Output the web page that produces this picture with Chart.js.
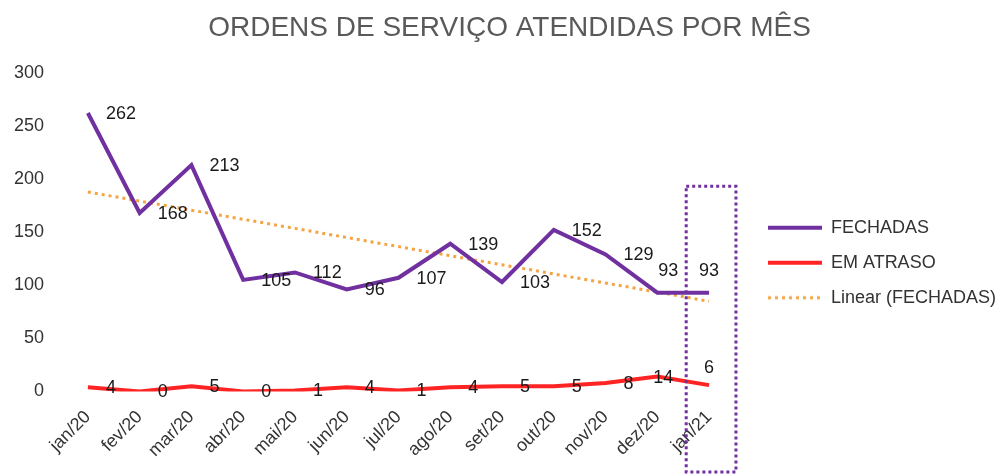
<!DOCTYPE html>
<html>
<head>
<meta charset="utf-8">
<script src="https://cdn.jsdelivr.net/npm/chart.js@4.4.1/dist/chart.umd.min.js"></script>
<style>
  body { margin: 0; background: #fff; }
  #wrap { width: 1006px; height: 475px; }
</style>
</head>
<body>
<div id="wrap"><canvas id="chart" width="1006" height="475"></canvas></div>
<script>
  var months = ["jan/20", "fev/20", "mar/20", "abr/20", "mai/20", "jun/20", "jul/20",
                "ago/20", "set/20", "out/20", "nov/20", "dez/20", "jan/21"];
  var fechadas = [262, 168, 213, 105, 112, 96, 107, 139, 103, 152, 129, 93, 93];
  var emAtraso = [4, 0, 5, 0, 1, 4, 1, 4, 5, 5, 8, 14, 6];
  var yTicks = [0, 50, 100, 150, 200, 250, 300];
  var highlightIndex = 12;   // mes destacado (jan/21)
  var highlightTop = 193;    // topo do retangulo, em unidades do eixo y

  var FONT = '"Liberation Sans", Arial, sans-serif';

  // linha de tendencia linear (minimos quadrados), como no Excel
  function linearTrend(values) {
    var n = values.length, sx = 0, sy = 0, sxy = 0, sxx = 0;
    for (var i = 0; i < n; i++) {
      sx += i; sy += values[i]; sxy += i * values[i]; sxx += i * i;
    }
    var slope = (n * sxy - sx * sy) / (n * sxx - sx * sx);
    var inter = (sy - slope * sx) / n;
    var out = [];
    for (var j = 0; j < n; j++) out.push(inter + slope * j);
    return out;
  }

  // amostra de linha para a legenda (o Chart.js nao pontilha o pointStyle 'line')
  function legendSample(color, width, dash) {
    var c = document.createElement('canvas');
    c.width = 54; c.height = 8;
    var g = c.getContext('2d');
    g.strokeStyle = color;
    g.lineWidth = width;
    g.setLineDash(dash || []);
    g.beginPath();
    g.moveTo(0, 4);
    g.lineTo(54, 4);
    g.stroke();
    return c;
  }

  // rotulos de valor ao lado dos pontos
  var valueLabels = {
    id: 'valueLabels',
    afterDatasetsDraw: function(chart) {
      var ctx = chart.ctx;
      ctx.save();
      ctx.font = '18px ' + FONT;
      ctx.fillStyle = '#1a1a1a';
      ctx.textBaseline = 'middle';
      [0, 1].forEach(function(d) {
        var meta = chart.getDatasetMeta(d);
        var data = chart.data.datasets[d].data;
        meta.data.forEach(function(pt, i) {
          var x = pt.x, y = pt.y;
          if (i === data.length - 1) {
            ctx.textAlign = 'center';
            y -= (d === 0 ? 23 : 18);
          } else if (i === data.length - 2) {
            ctx.textAlign = 'center';
            x += (d === 0 ? 11 : 6);
            if (d === 0) y -= 23;
          } else {
            ctx.textAlign = 'left';
            x += 18;
          }
          ctx.fillText(String(data[i]), x, y + 1);
        });
      });
      ctx.restore();
    }
  };

  // retangulo pontilhado em volta do ultimo mes
  var highlightBox = {
    id: 'highlightBox',
    afterDraw: function(chart) {
      var xs = chart.scales.x, ys = chart.scales.y, ctx = chart.ctx;
      var cx = xs.getPixelForValue(highlightIndex);
      var half = (xs.getPixelForValue(1) - xs.getPixelForValue(0)) / 2;
      var top = ys.getPixelForValue(highlightTop);
      var bottom = chart.height - 3;
      ctx.save();
      ctx.strokeStyle = '#7030a0';
      ctx.lineWidth = 3;
      ctx.setLineDash([3, 3]);
      ctx.strokeRect(cx - half + 3, top, 2 * half - 2, bottom - top);
      ctx.restore();
    }
  };

  var chart = new Chart(document.getElementById("chart").getContext("2d"), {
    type: 'line',
    data: {
      labels: months,
      datasets: [
        {
          label: 'FECHADAS',
          data: fechadas,
          borderColor: '#7030a0',
          backgroundColor: '#7030a0',
          borderWidth: 4,
          pointRadius: 0,
          pointStyle: legendSample('#7030a0', 4),
          tension: 0
        },
        {
          label: 'EM ATRASO',
          data: emAtraso,
          borderColor: '#ff2424',
          backgroundColor: '#ff2424',
          borderWidth: 4,
          pointRadius: 0,
          pointStyle: legendSample('#ff2424', 4),
          tension: 0
        },
        {
          label: 'Linear (FECHADAS)',
          data: linearTrend(fechadas),
          borderColor: '#f5a443',
          backgroundColor: '#f5a443',
          borderWidth: 3,
          borderDash: [3, 4],
          pointRadius: 0,
          pointStyle: legendSample('#f5a443', 3, [3, 4]),
          tension: 0
        }
      ]
    },
    options: {
      responsive: false,
      animation: false,
      layout: { padding: { left: 13, right: 0, top: 0, bottom: 0 } },
      plugins: {
        title: {
          display: true,
          text: 'ORDENS DE SERVIÇO ATENDIDAS POR MÊS',
          color: '#595959',
          font: { family: FONT, size: 28, weight: 'normal' },
          padding: { top: 11, bottom: 28 }
        },
        legend: {
          position: 'right',
          maxWidth: 270,
          // titulo vazio so para baixar os itens da legenda
          title: { display: true, text: '', font: { size: 12 }, padding: 18 },
          labels: {
            usePointStyle: true,
            pointStyleWidth: 54,
            padding: 17,
            color: '#333',
            font: { family: FONT, size: 18 }
          }
        },
        tooltip: { enabled: false }
      },
      scales: {
        x: {
          offset: true,
          grid: { display: false, drawTicks: false },
          border: { display: false },
          ticks: {
            color: '#333',
            font: { family: FONT, size: 18 },
            minRotation: 45,
            maxRotation: 45,
            padding: 15
          },
          afterFit: function(s) { s.height = 83.5; }
        },
        y: {
          min: yTicks[0],
          max: yTicks[yTicks.length - 1],
          grid: { display: false, drawTicks: false },
          border: { display: false },
          ticks: {
            stepSize: yTicks[1] - yTicks[0],
            color: '#333',
            font: { family: FONT, size: 18 },
            padding: 18
          },
          afterFit: function(s) { s.width = 49; }
        },
        y2: {
          position: 'right',
          grid: { display: false, drawTicks: false },
          border: { display: false },
          ticks: { display: false },
          afterFit: function(s) { s.width = 16; }
        }
      }
    },
    plugins: [valueLabels, highlightBox]
  });
</script>
</body>
</html>
